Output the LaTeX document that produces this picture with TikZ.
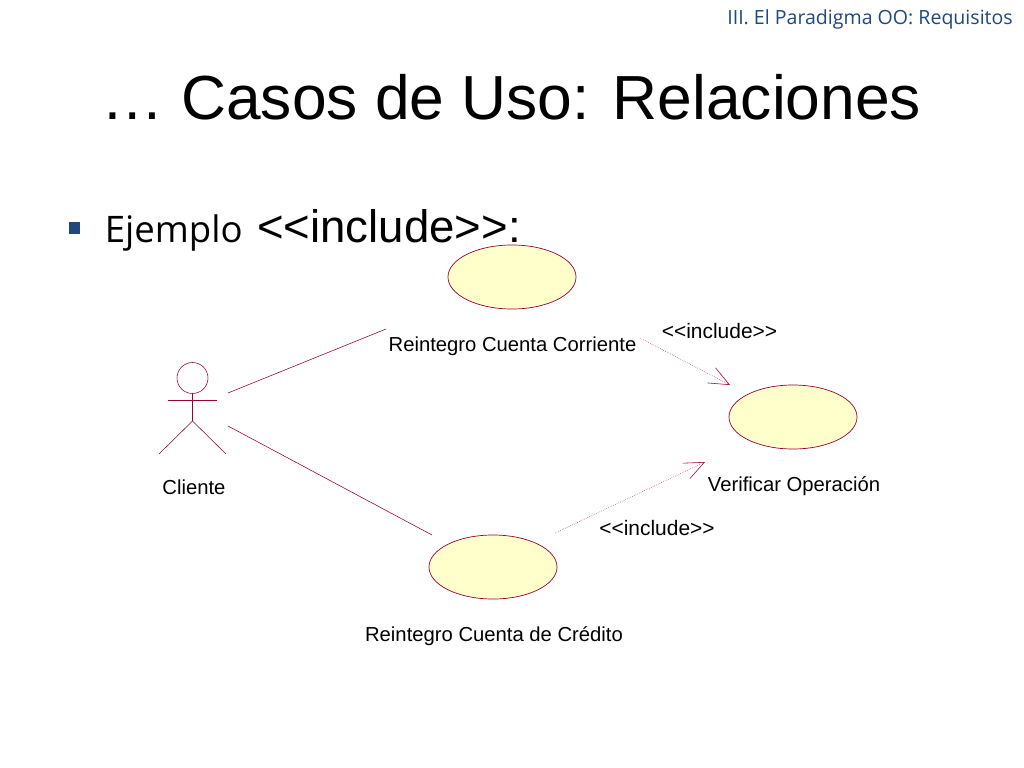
\documentclass[tikz,border=0pt]{standalone}
\usepackage{fontspec}
\setmainfont{Liberation Sans}
\newfontfamily\slidefont{Open Sans}
\usetikzlibrary{arrows.meta,shapes.geometric}
\definecolor{umlline}{RGB}{153,0,51}
\definecolor{umlfill}{RGB}{255,255,204}
\definecolor{headblue}{RGB}{31,73,125}
\tikzset{
  usecase/.style={draw=umlline,fill=umlfill,ellipse,line width=0.5pt,minimum width=3.2cm,minimum height=1.6cm,inner sep=0pt},
  umllabel/.style={inner sep=0pt,font=\fontsize{14.4pt}{17pt}\selectfont},
  incllabel/.style={inner sep=0pt,font=\fontsize{14.9pt}{17pt}\selectfont},
  assoc/.style={draw=umlline,line width=0.4pt},
  incl/.style={draw=umlline,line width=0.35pt,densely dotted,-{Straight Barb[length=0.5cm,width=0.425cm,line width=0.4pt]}}
}
\begin{document}
\begin{tikzpicture}[x=0.025cm,y=-0.025cm]
  \useasboundingbox (0,0) rectangle (1024,768);
  % slide head
  \node[anchor=east,inner sep=0pt,text=headblue,font=\slidefont\fontsize{13.9pt}{16pt}\selectfont] (head) at (1013,19) {III. El Paradigma OO: Requisitos};
  \node[inner sep=0pt,font=\fontsize{44.3pt}{50pt}\selectfont] (title) at (511.5,97) {… Casos de Uso: Relaciones};
  \node[fill=headblue,inner sep=0pt,minimum size=0.275cm] (bullet) at (74.5,228) {};
  \node[anchor=base west,inner sep=0pt,font=\slidefont\fontsize{26pt}{30pt}\selectfont] (example) at (104.5,242) {Ejemplo{\normalfont\fontsize{32.4pt}{30pt}\selectfont\hspace{1.4pt}\ {<}{<}include{>}{>}:}};
  % use cases
  \node[usecase] (corriente) at (512,277) {};
  \node[usecase] (verificar) at (793,417) {};
  \node[usecase] (credito) at (493,567) {};
  \node[umllabel] (corrientetxt) at (512.5,346) {Reintegro Cuenta Corriente};
  \node[umllabel] (verificartxt) at (794,486) {Verificar Operación};
  \node[umllabel] (creditotxt) at (494,636) {Reintegro Cuenta de Crédito};
  \node[incllabel] (inclone) at (719.5,331) {{<}{<}include{>}{>}};
  \node[incllabel] (incltwo) at (657,528) {{<}{<}include{>}{>}};
  \node[umllabel] (clientetxt) at (194,487) {Cliente};
  % actor
  \node[draw=umlline,circle,line width=0.4pt,minimum size=0.775cm,inner sep=0pt] (headc) at (192.5,378) {};
  \coordinate (hip) at (192.5,421);
  \coordinate (armleft) at (168,400);
  \coordinate (armright) at (217,400);
  \coordinate (legleft) at (159,454);
  \coordinate (legright) at (226,454);
  \draw[assoc] (headc.south) -- (hip) -- (legleft);
  \draw[assoc] (hip) -- (legright);
  \draw[assoc] (armleft) -- (armright);
  % connectors
  \coordinate (actorup) at (228,393);
  \coordinate (actordown) at (228,426);
  \coordinate (corrin) at (386,329);
  \coordinate (credin) at (432,535);
  \coordinate (corrout) at (640,338);
  \coordinate (verifup) at (730,385);
  \coordinate (credout) at (555,533);
  \coordinate (verifdown) at (705,462);
  \draw[assoc] (actorup) -- (corrin);
  \draw[assoc] (actordown) -- (credin);
  \draw[incl] (corrout) -- (verifup);
  \draw[incl] (credout) -- (verifdown);
\end{tikzpicture}
\end{document}
